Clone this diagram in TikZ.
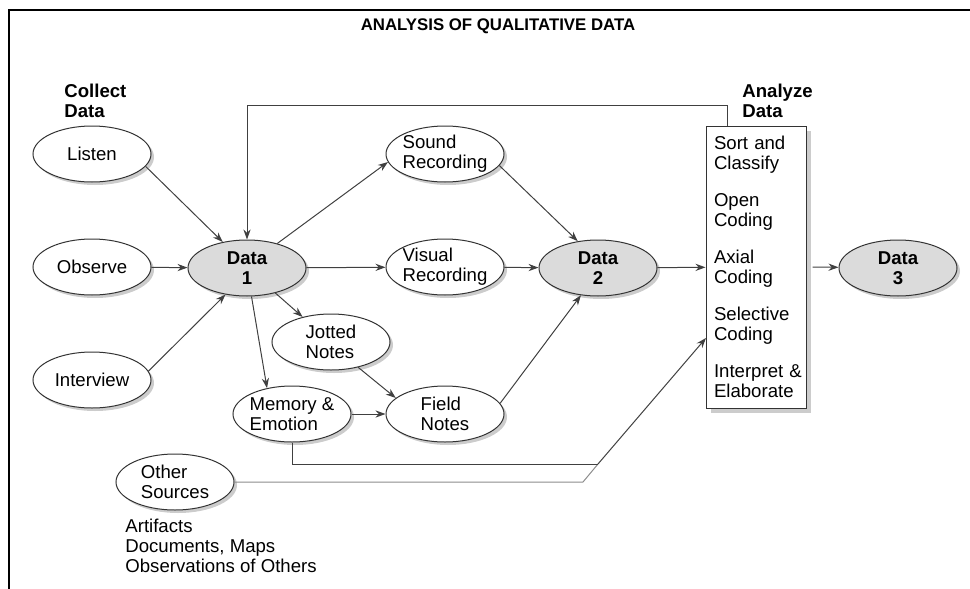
\documentclass[tikz,border=0pt]{standalone}
\usepackage{fontspec}
\setmainfont{Liberation Sans}
\usetikzlibrary{
    shapes.geometric,
    arrows.meta,
    shadows,
    positioning
}

\tikzset{
    txt/.style={font=\fontsize{9.3}{10}\selectfont},
    oval/.style={
        ellipse,
        draw=black!80,
        fill=white,
        line width=0.5pt,
        minimum width=59pt,
        minimum height=28pt,
        inner xsep=-2pt,
        inner ysep=0pt,
        align=left,
        txt,
        drop shadow={shadow xshift=1.5pt, shadow yshift=-1.5pt, fill=black!40},
    },
    datanode/.style={oval, fill=black!14, align=center, font=\fontsize{9.3}{10}\selectfont\bfseries},
    flow/.style={draw=black!75, line width=0.5pt, -{Stealth[length=5pt,width=3.6pt]}},
    link/.style={draw=black!75, line width=0.5pt},
    heading/.style={font=\fontsize{9.3}{10}\selectfont\bfseries, align=left, inner sep=0pt},
}

\begin{document}
\begin{tikzpicture}[x=0.5pt,y=-0.5pt]
    \useasboundingbox (0,0) rectangle (970,589);

    % frame and title
    \draw[line width=1.3pt] (9,589) -- (9,10) -- (970,10);
    \node[inner sep=0pt, font=\fontsize{8.4}{10}\selectfont\bfseries] (title) at (498,26)
        {ANALYSIS OF QUALITATIVE DATA};

    \node[heading, anchor=north west] (collect) at (64,84) {Collect\\Data};
    \node[heading, anchor=north west] (analyze) at (742,84) {Analyze\\Data};

    % collection
    \node[oval, align=center] (listen) at (92,154) {Listen};
    \node[oval, align=center] (observe) at (92,267) {Observe};
    \node[oval, align=center] (interview) at (92,380) {Interview};
    \node[datanode] (data1) at (247,268) {Data\\1};

    % recording
    \node[oval] (sound) at (445,154) {Sound\\Recording};
    \node[oval] (visual) at (445,267) {Visual\\Recording};
    \node[oval] (jotted) at (331,342) {Jotted\\Notes};
    \node[oval] (memory) at (292,414) {Memory \&\\Emotion};
    \node[oval] (field) at (445,414) {Field\\Notes};
    \node[oval] (others) at (175,482) {Other\\Sources};
    \node[txt, align=left, inner sep=0pt, anchor=north west] (kinds) at (125,519)
        {Artifacts\\Documents, Maps\\Observations of Others};

    \node[datanode] (data2) at (598,268) {Data\\2};

    % analysis box
    \node[
        draw=black!80,
        fill=white,
        line width=0.5pt,
        txt,
        text width=42pt,
        inner xsep=4pt,
        minimum height=141pt,
        align=left,
        drop shadow={shadow xshift=2.5pt, shadow yshift=-2.5pt, fill=black!40},
    ] (analysis) at (756,267)
        {Sort and\\Classify\\[8.5pt]Open\\Coding\\[8.5pt]Axial\\Coding\\[8.5pt]Selective\\Coding\\[8.5pt]\mbox{Interpret \&}\\Elaborate};

    \node[datanode] (data3) at (898,268) {Data\\3};

    % connectors
    \draw[flow] (listen.-13) -- (data1.133);
    \draw[flow] (observe) -- (data1);
    \draw[flow] (interview.9) -- (data1.-129);
    \draw[flow] (data1.39) -- (sound.188);
    \draw[flow] (data1) -- (visual);
    \draw[flow] (data1) -- (jotted);
    \draw[flow] (data1.-81) -- (memory.134);
    \draw[flow] (jotted.-43) -- (field.162);
    \draw[flow] (memory) -- (field);
    \draw[flow] (sound.-12) -- (data2.127);
    \draw[flow] (visual) -- (data2);
    \draw[flow] (field.11) -- (data2.-122);
    \draw[flow] (data2) -- (analysis);
    \draw[flow] ([xshift=3pt]analysis.east) -- (data3);

    % feedback loop back to data 1
    \coordinate (loop) at (727,105);
    \draw[flow] (loop |- analysis.north) -- (loop) -| (data1.north);

    % memory and other sources into coding
    \coordinate (merge) at (583,482);
    \coordinate (join) at (598,464);
    \coordinate (entry) at (706,338);
    \draw[draw=black!45, line width=0.5pt] (others.east) -- (merge) -- (join);
    \draw[link] (memory.south) |- (join);
    \draw[flow] (join) -- (entry);
\end{tikzpicture}
\end{document}
